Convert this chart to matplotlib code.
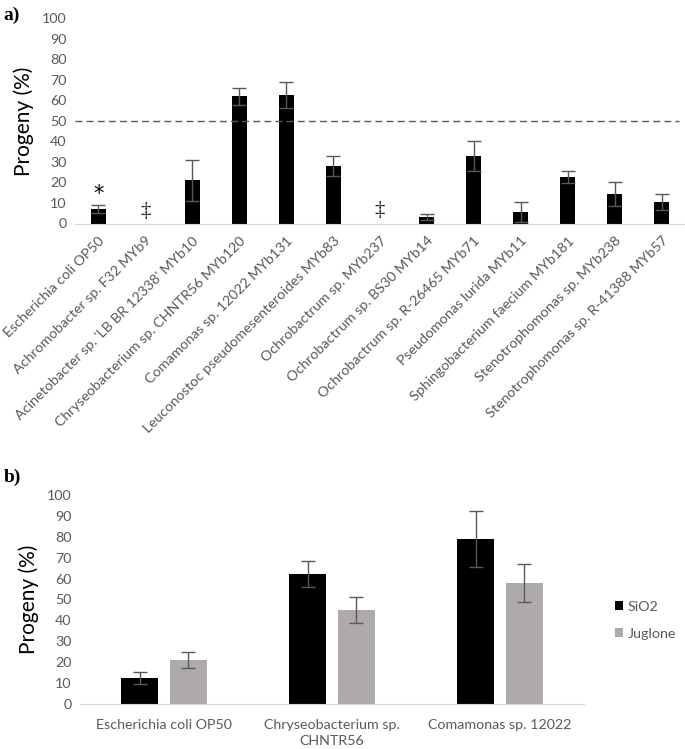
import numpy as np
import matplotlib.pyplot as plt
from matplotlib.transforms import ScaledTranslation

plt.rcParams['font.family'] = ['Lato', 'DejaVu Sans']

# panel a data
strains_a = ["Escherichia coli OP50", "Achromobacter sp. F32 MYb9",
             "Acinetobacter sp. 'LB BR 12338' MYb10", "Chryseobacterium sp. CHNTR56 MYb120",
             "Comamonas sp. 12022 MYb131", "Leuconostoc pseudomesenteroides MYb83",
             "Ochrobactrum sp. MYb237", "Ochrobactrum sp. BS30 MYb14",
             "Ochrobactrum sp. R-26465 MYb71", "Pseudomonas lurida MYb11",
             "Sphingobacterium faecium MYb181", "Stenotrophomonas sp. MYb238",
             "Stenotrophomonas sp. R-41388 MYb57"]
progeny_a = [7.0, 0, 21.0, 62.0, 62.5, 28.0, 0, 3.2, 33.0, 5.5, 22.8, 14.3, 10.5]
err_a = [1.8, 0, 9.8, 4.2, 6.4, 4.7, 0, 1.3, 7.4, 4.8, 3.0, 6.0, 3.9]
dagger_idx = [1, 6]
dagger_y = [6.0, 6.5]
star_idx = 0
star_y = 14.3
threshold = 50

# panel b data
strains_b = ["Escherichia coli OP50", "Chryseobacterium sp.\nCHNTR56", "Comamonas sp. 12022"]
sio2 = [12.6, 62.2, 78.8]
sio2_err = [2.9, 6.4, 13.4]
juglone = [21.0, 45.0, 58.0]
juglone_err = [3.8, 6.4, 9.0]

tick_col = '#595959'
err_col = '#595959'
grey_bar = '#AEAAAA'
fs = 10.3

fig = plt.figure(figsize=(6.85, 7.49), dpi=100)

# ---- a) ----
ax1 = fig.add_axes([75 / 685, 1 - 223.5 / 749, 610 / 685, (223.5 - 18.3) / 749])
x = np.arange(len(strains_a))
vals = np.array(progeny_a)
errs = np.array(err_a)
has_bar = np.array([i not in dagger_idx for i in x])
ax1.bar(x, vals, width=0.32, color='black')
ax1.errorbar(x[has_bar], vals[has_bar], yerr=errs[has_bar], fmt='none',
             ecolor=err_col, elinewidth=1, capsize=5, capthick=1)
for i, yv in zip(dagger_idx, dagger_y):
    ax1.text(i, yv, '\u2021', ha='center', va='center', fontsize=15,
             family=['Liberation Serif', 'DejaVu Serif'], color='#222222')
ax1.text(star_idx, star_y, '*', ha='center', va='center', fontsize=15,
         family=['DejaVu Sans'], color='black')
ax1.axhline(threshold, xmin=0, xmax=0.99, color=tick_col, lw=1, dashes=(5, 3))
ax1.set_xlim(-0.5, len(strains_a) - 0.5)
ax1.set_ylim(0, 100)
ax1.set_yticks(np.arange(0, 101, 10))
ax1.set_xticks(x)
ax1.set_xticklabels(strains_a, rotation=45, ha='right', va='top', rotation_mode='anchor')
shift = ScaledTranslation(-4 / 100, 0, fig.dpi_scale_trans)
for lbl in ax1.get_xticklabels():
    lbl.set_transform(lbl.get_transform() + shift)
ax1.tick_params(axis='both', length=0, colors=tick_col, labelsize=fs)
ax1.tick_params(axis='x', pad=8)
ax1.tick_params(axis='y', pad=6)
for s in ['top', 'right', 'left']:
    ax1.spines[s].set_visible(False)
ax1.spines['bottom'].set_color('#D9D9D9')
ax1.set_ylabel('Progeny (%)', fontsize=15, color='black', labelpad=6)
fig.text(3 / 685, 1 - 15 / 749, 'a)', fontsize=14, fontweight='bold',
         family=['Liberation Serif', 'DejaVu Serif'], va='center', ha='left')

# ---- b) ----
ax2 = fig.add_axes([80 / 685, 1 - 704 / 749, 504 / 685, (704 - 495) / 749])
xb = np.arange(len(strains_b))
w = 0.22
off = 0.143
ax2.bar(xb - off, sio2, width=w, color='black', label='SiO2')
ax2.bar(xb + off, juglone, width=w, color=grey_bar, label='Juglone')
ax2.errorbar(xb - off, sio2, yerr=sio2_err, fmt='none', ecolor=err_col,
             elinewidth=1, capsize=5, capthick=1)
ax2.errorbar(xb + off, juglone, yerr=juglone_err, fmt='none', ecolor=err_col,
             elinewidth=1, capsize=5, capthick=1)
ax2.set_xlim(-0.5, len(strains_b) - 0.5)
ax2.set_ylim(0, 100)
ax2.set_yticks(np.arange(0, 101, 10))
ax2.set_xticks(xb)
ax2.set_xticklabels(strains_b, linespacing=1.4)
ax2.tick_params(axis='both', length=0, colors=tick_col, labelsize=fs)
ax2.tick_params(axis='x', pad=11)
ax2.tick_params(axis='y', pad=6)
for s in ['top', 'right', 'left']:
    ax2.spines[s].set_visible(False)
ax2.spines['bottom'].set_color('#D9D9D9')
ax2.set_ylabel('Progeny (%)', fontsize=15, color='black', labelpad=6)
leg = ax2.legend(loc='center left', bbox_to_anchor=(1.035, 0.40), frameon=False,
                 handlelength=0.6, handleheight=0.6, handletextpad=0.3,
                 labelspacing=1.05, fontsize=fs, labelcolor=tick_col)
fig.text(4 / 685, 1 - 477 / 749, 'b)', fontsize=14, fontweight='bold',
         family=['Liberation Serif', 'DejaVu Serif'], va='center', ha='left')

fig.savefig('out.png', dpi=100)
